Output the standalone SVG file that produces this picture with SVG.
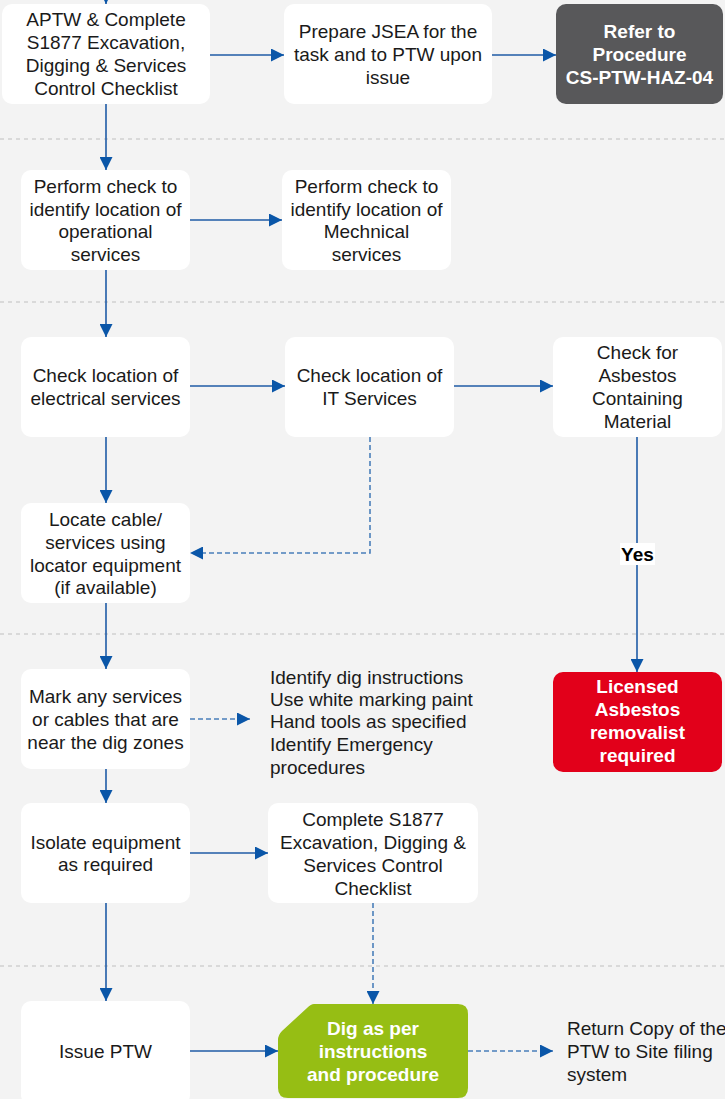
<svg xmlns="http://www.w3.org/2000/svg" width="725" height="1099" viewBox="0 0 725 1099">
<style>
.bg{fill:#f3f3f3}
.sep{stroke:#d9d9d9;stroke-width:2;stroke-dasharray:4 4;fill:none}
.box{fill:#ffffff}
.dark{fill:#58585a}
.red{fill:#e2001a}
.green{fill:#96be14}
.t{font-family:"Liberation Sans",Arial,sans-serif;font-size:19px;fill:#1a1a1a;text-anchor:middle}
.tl{font-family:"Liberation Sans",Arial,sans-serif;font-size:19px;fill:#1a1a1a;text-anchor:start}
.tb{font-family:"Liberation Sans",Arial,sans-serif;font-size:19px;font-weight:bold;fill:#ffffff;text-anchor:middle}
.lbl{font-family:"Liberation Sans",Arial,sans-serif;font-size:19px;font-weight:bold;fill:#000000;text-anchor:middle}
.c{stroke:#1f5ba6;stroke-width:1.6;fill:none;marker-end:url(#ah)}
.cd{stroke:#4a7fba;stroke-width:1.6;fill:none;stroke-dasharray:5 3;marker-end:url(#ah)}
</style>
<defs>
<marker id="ah" markerUnits="userSpaceOnUse" markerWidth="13" markerHeight="13" refX="13" refY="6.5" orient="auto">
<path d="M0,0 L13,6.5 L0,13 z" fill="#0a56a8"/>
</marker>
</defs>
<rect class="bg" x="0" y="0" width="725" height="1099"/>
<g id="separators">
<line class="sep" x1="0" y1="139" x2="725" y2="139"/>
<line class="sep" x1="0" y1="302" x2="725" y2="302"/>
<line class="sep" x1="0" y1="634" x2="725" y2="634"/>
<line class="sep" x1="0" y1="966" x2="725" y2="966"/>
</g>
<g id="connectors">
<line class="c" x1="106" y1="-20" x2="106" y2="4"/>
<line class="c" x1="210" y1="55" x2="284" y2="55"/>
<line class="c" x1="492" y1="55" x2="556" y2="55"/>
<line class="c" x1="106" y1="104" x2="106" y2="170"/>
<line class="c" x1="190" y1="220" x2="282" y2="220"/>
<line class="c" x1="106" y1="270" x2="106" y2="337"/>
<line class="c" x1="190" y1="386" x2="285" y2="386"/>
<line class="c" x1="454" y1="386" x2="553" y2="386"/>
<line class="c" x1="106" y1="437" x2="106" y2="503"/>
<polyline class="cd" points="370,437 370,553 190,553"/>
<line class="c" x1="637" y1="437" x2="637" y2="672"/>
<line class="c" x1="106" y1="603" x2="106" y2="669"/>
<line class="cd" x1="190" y1="719" x2="250" y2="719"/>
<line class="c" x1="106" y1="769" x2="106" y2="803"/>
<line class="c" x1="190" y1="853" x2="268" y2="853"/>
<line class="cd" x1="373" y1="903" x2="373" y2="1004"/>
<line class="c" x1="106" y1="903" x2="106" y2="1001"/>
<line class="c" x1="190" y1="1051" x2="278" y2="1051"/>
<line class="cd" x1="468" y1="1051" x2="553" y2="1051"/>
<g id="label-yes">
<rect x="620" y="543" width="35" height="22" fill="#ffffff"/>
<text class="lbl" x="637.5" y="560.5">Yes</text>
</g>
</g>
<g id="n1">
<rect class="box" x="2" y="4" width="208" height="100" rx="10"/>
<text class="t" x="106" y="26">APTW &amp; Complete</text>
<text class="t" x="106" y="49">S1877 Excavation,</text>
<text class="t" x="106" y="72">Digging &amp; Services</text>
<text class="t" x="106" y="95">Control Checklist</text>
</g>
<g id="n2">
<rect class="box" x="284" y="4" width="208" height="100" rx="10"/>
<text class="t" x="388" y="38">Prepare JSEA for the</text>
<text class="t" x="388" y="61">task and to PTW upon</text>
<text class="t" x="388" y="84">issue</text>
</g>
<g id="n3">
<rect class="dark" x="556" y="4" width="167" height="100" rx="10"/>
<text class="tb" x="639.5" y="38">Refer to</text>
<text class="tb" x="639.5" y="61">Procedure</text>
<text class="tb" x="639.5" y="84">CS-PTW-HAZ-04</text>
</g>
<g id="n4">
<rect class="box" x="21" y="170" width="169" height="100" rx="10"/>
<text class="t" x="105.5" y="193">Perform check to</text>
<text class="t" x="105.5" y="216">identify location of</text>
<text class="t" x="105.5" y="238">operational</text>
<text class="t" x="105.5" y="261">services</text>
</g>
<g id="n5">
<rect class="box" x="282" y="170" width="169" height="100" rx="10"/>
<text class="t" x="366.5" y="193">Perform check to</text>
<text class="t" x="366.5" y="216">identify location of</text>
<text class="t" x="366.5" y="238">Mechnical</text>
<text class="t" x="366.5" y="261">services</text>
</g>
<g id="n6">
<rect class="box" x="21" y="337" width="169" height="100" rx="10"/>
<text class="t" x="105.5" y="382">Check location of</text>
<text class="t" x="105.5" y="405">electrical services</text>
</g>
<g id="n7">
<rect class="box" x="285" y="337" width="169" height="100" rx="10"/>
<text class="t" x="369.5" y="382">Check location of</text>
<text class="t" x="369.5" y="405">IT Services</text>
</g>
<g id="n8">
<rect class="box" x="553" y="337" width="169" height="100" rx="10"/>
<text class="t" x="637.5" y="359">Check for</text>
<text class="t" x="637.5" y="382">Asbestos</text>
<text class="t" x="637.5" y="405">Containing</text>
<text class="t" x="637.5" y="428">Material</text>
</g>
<g id="n9">
<rect class="box" x="21" y="503" width="169" height="100" rx="10"/>
<text class="t" x="105.5" y="526">Locate cable/</text>
<text class="t" x="105.5" y="549">services using</text>
<text class="t" x="105.5" y="572">locator equipment</text>
<text class="t" x="105.5" y="594">(if available)</text>
</g>
<g id="n10">
<rect class="red" x="553" y="672" width="169" height="100" rx="10"/>
<text class="tb" x="637.5" y="693">Licensed</text>
<text class="tb" x="637.5" y="716">Asbestos</text>
<text class="tb" x="637.5" y="739">removalist</text>
<text class="tb" x="637.5" y="762">required</text>
</g>
<g id="n11">
<rect class="box" x="21" y="669" width="169" height="100" rx="10"/>
<text class="t" x="105.5" y="703">Mark any services</text>
<text class="t" x="105.5" y="726">or cables that are</text>
<text class="t" x="105.5" y="749">near the dig zones</text>
</g>
<g id="n11-notes">
<text class="tl" x="270" y="684">Identify dig instructions</text>
<text class="tl" x="270" y="706">Use white marking paint</text>
<text class="tl" x="270" y="728">Hand tools as specified</text>
<text class="tl" x="270" y="751">Identify Emergency</text>
<text class="tl" x="270" y="774">procedures</text>
</g>
<g id="n12">
<rect class="box" x="21" y="803" width="169" height="100" rx="10"/>
<text class="t" x="105.5" y="849">Isolate equipment</text>
<text class="t" x="105.5" y="871">as required</text>
</g>
<g id="n13">
<rect class="box" x="268" y="803" width="210" height="100" rx="10"/>
<text class="t" x="373" y="826">Complete S1877</text>
<text class="t" x="373" y="849">Excavation, Digging &amp;</text>
<text class="t" x="373" y="872">Services Control</text>
<text class="t" x="373" y="895">Checklist</text>
</g>
<g id="n14">
<rect class="box" x="21" y="1001" width="169" height="104" rx="10"/>
<text class="t" x="105.5" y="1058">Issue PTW</text>
</g>
<g id="n15">
<path class="green" d="M314,1004 L458,1004 Q468,1004 468,1014 L468,1088 Q468,1098 458,1098 L288,1098 Q278,1098 278,1088 L278,1040 Q278,1035 282,1031 L307,1008 Q311,1004 314,1004 Z"/>
<text class="tb" x="373" y="1035">Dig as per</text>
<text class="tb" x="373" y="1058">instructions</text>
<text class="tb" x="373" y="1081">and procedure</text>
</g>
<g id="n16">
<text class="tl" x="567" y="1035">Return Copy of the</text>
<text class="tl" x="567" y="1058">PTW to Site filing</text>
<text class="tl" x="567" y="1081">system</text>
</g>
</svg>
